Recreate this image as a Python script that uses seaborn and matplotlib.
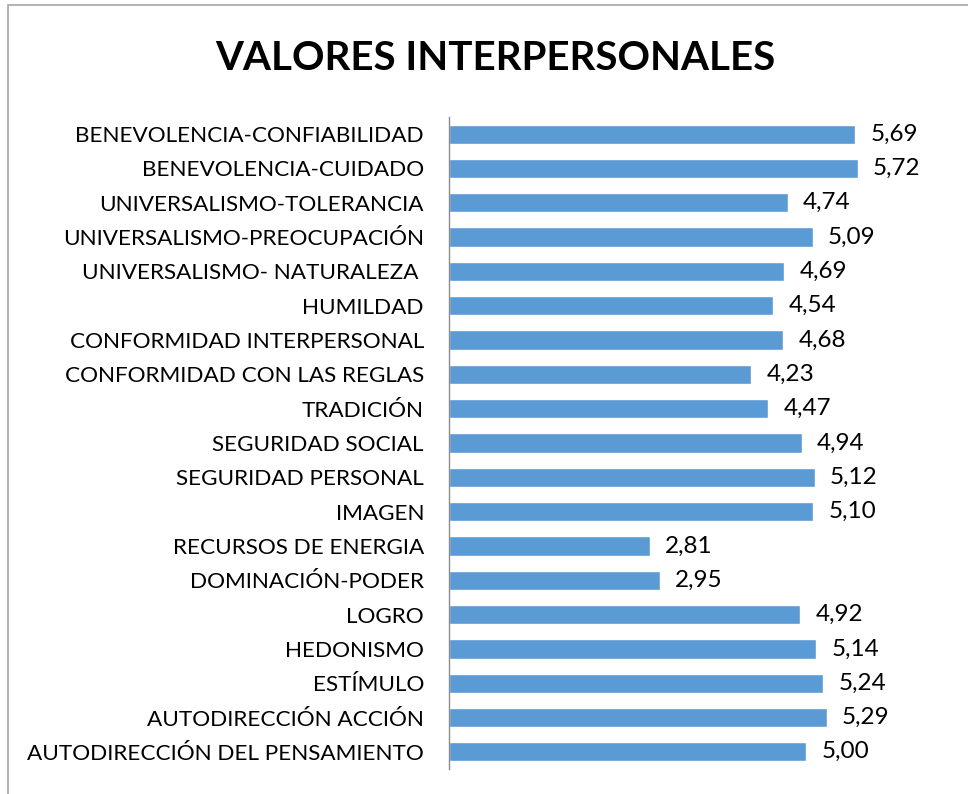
import matplotlib
matplotlib.use("Agg")
import matplotlib.pyplot as plt
import seaborn as sns
import pandas as pd
from matplotlib.patches import Rectangle

# ---- data ----
categorias = [
    "BENEVOLENCIA-CONFIABILIDAD",
    "BENEVOLENCIA-CUIDADO",
    "UNIVERSALISMO-TOLERANCIA",
    "UNIVERSALISMO-PREOCUPACIÓN",
    "UNIVERSALISMO- NATURALEZA ",
    "HUMILDAD",
    "CONFORMIDAD INTERPERSONAL",
    "CONFORMIDAD CON LAS REGLAS",
    "TRADICIÓN",
    "SEGURIDAD SOCIAL",
    "SEGURIDAD PERSONAL",
    "IMAGEN",
    "RECURSOS DE ENERGIA",
    "DOMINACIÓN-PODER",
    "LOGRO",
    "HEDONISMO",
    "ESTÍMULO",
    "AUTODIRECCIÓN ACCIÓN",
    "AUTODIRECCIÓN DEL PENSAMIENTO",
]
valores = [5.69, 5.72, 4.74, 5.09, 4.69, 4.54, 4.68, 4.23, 4.47, 4.94,
           5.12, 5.10, 2.81, 2.95, 4.92, 5.14, 5.24, 5.29, 5.00]

df = pd.DataFrame({"categoria": categorias, "valor": valores})

sns.set_style("white")
plt.rcParams['font.family'] = ['Lato', 'DejaVu Sans']

fig = plt.figure(figsize=(9.68, 7.94), dpi=100)
W, H = 968, 794
ax = fig.add_axes([449 / W, 1 - 769 / H, (949 - 449) / W, (769 - 117) / H])

sns.barplot(data=df, x="valor", y="categoria", color="#5B9BD5",
            saturation=1, width=0.56, ax=ax, orient="h")

ax.set_xlim(0, 7)
ax.set_xlabel("")
ax.set_ylabel("")
ax.set_xticks([])
for s in ["top", "right", "bottom"]:
    ax.spines[s].set_visible(False)
ax.spines["left"].set_color("#8c8c8c")
ax.spines["left"].set_linewidth(1)
ax.tick_params(axis="y", length=0, pad=18, labelsize=16.2, labelcolor="#000000")

for cont in ax.containers:
    ax.bar_label(cont, labels=[f"{v:.2f}".replace(".", ",") for v in valores],
                 padding=11, fontsize=17.5, color="#000000")

fig.text(495 / W, 1 - 58 / H, "VALORES INTERPERSONALES", ha="center",
         va="center", fontsize=29, fontweight="bold", color="#000000")

# chart border
fig.patches.append(Rectangle((8 / W, -0.1), 1.2, 1 - 5 / H + 0.1,
                             transform=fig.transFigure, fill=False,
                             edgecolor="#a6a6a6", linewidth=1.2))

fig.savefig("out.png", dpi=100)
